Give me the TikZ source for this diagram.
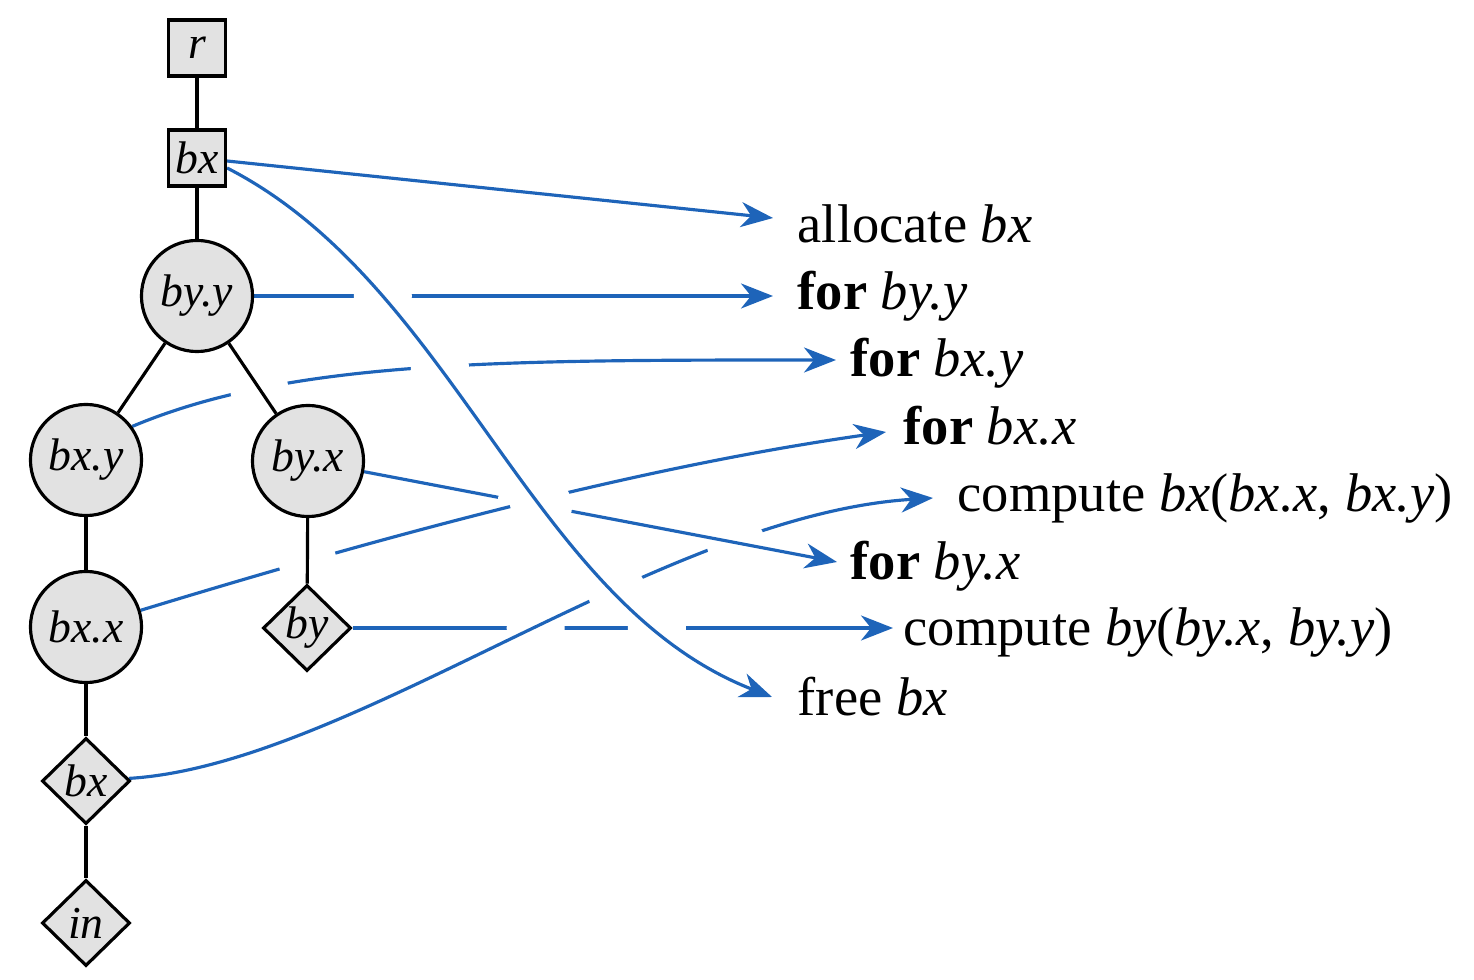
\documentclass[tikz,border=0pt]{standalone}
\usepackage{fontspec}
\setmainfont{Liberation Serif}
\usetikzlibrary{shapes.geometric,arrows.meta,intersections}
\definecolor{arrowblue}{RGB}{30,100,185}
\definecolor{nodegray}{RGB}{226,226,226}
\pgfdeclarelayer{fg}
\pgfsetlayers{main,fg}
\newcommand\gapat[2]{\fill[white,name intersections={of=#1 and #2,name=ix}] (ix-1) circle[radius=0.29cm];}
\begin{document}
\begin{tikzpicture}[x=0.01cm,y=-0.01cm,
  treenode/.style={draw=black,line width=0.9pt,fill=nodegray,inner sep=0pt,font=\fontsize{13}{15}\selectfont\itshape},
  sqbox/.style={treenode,rectangle,minimum width=0.57cm,minimum height=0.56cm},
  circ/.style={treenode,circle,minimum size=1.11cm},
  diam/.style={treenode,diamond,minimum width=0.88cm,minimum height=0.86cm},
  treeedge/.style={draw=black,line width=0.9pt},
  flowline/.style={draw=arrowblue,line width=0.9pt,-{Stealth[length=0.32cm,width=0.25cm,inset=0.1cm]}},
  steptext/.style={anchor=base west,inner sep=0pt,font=\fontsize{15.5}{18}\selectfont}
]
\useasboundingbox (0,0) rectangle (1474,980);
\begin{pgfonlayer}{fg}
\node[sqbox] (r) at (197,48) {r};
\node[sqbox] (bxtop) at (197,158) {bx};
\node[circ] (byy) at (197,296) {by.y};
\node[circ] (bxy) at (86,460) {bx.y};
\node[circ] (byx) at (308,461) {by.x};
\node[circ] (bxx) at (86,627) {bx.x};
\node[diam] (byd) at (307,628) {by};
\node[diam] (bxd) at (86,781) {bx};
\node[diam] (ind) at (86,923) {in};
\node[steptext] (l1) at (797,243) {allocate \textit{bx}};
\node[steptext] (l2) at (797,310) {\textbf{for} \textit{by.y}};
\node[steptext] (l3) at (850,377) {\textbf{for} \textit{bx.y}};
\node[steptext] (l4) at (903,445) {\textbf{for} \textit{bx.x}};
\node[steptext] (l5) at (957,512) {compute \textit{bx}(\textit{bx.x}, \textit{bx.y})};
\node[steptext] (l6) at (850,580) {\textbf{for} \textit{by.x}};
\node[steptext] (l7) at (903,645) {compute \textit{by}(\textit{by.x}, \textit{by.y})};
\node[steptext] (l8) at (797,715) {free \textit{bx}};
\end{pgfonlayer}
\coordinate (talloc) at (773,218);
\coordinate (tbyy) at (773,296);
\coordinate (tbxy) at (836,360);
\coordinate (tbxx) at (886,432);
\coordinate (tcbx) at (933,498);
\coordinate (tbyx) at (837,562);
\coordinate (tcby) at (893,628);
\coordinate (tfree) at (772,697);
\coordinate (salloc) at ([yshift=-0.03cm]bxtop.east);
\coordinate (sfree) at ([yshift=-0.10cm]bxtop.east);
% compute by
\path[name path=pby] (byd) -- (tcby);
\draw[flowline] (byd) -- (tcby);
% compute bx
\path[name path=pbxd] (bxd) .. controls (350,765) and (660,515) .. (tcbx);
\gapat{pbxd}{pby}
\draw[flowline] (bxd) .. controls (350,765) and (660,515) .. (tcbx);
% for by.x
\path[name path=pbyx] (byx) -- (tbyx);
\gapat{pbyx}{pbxd}
\draw[flowline] (byx) -- (tbyx);
% for bx.x
\path[name path=pbxx] (bxx.17) .. controls (381,537) and (638,467) .. (tbxx);
\gapat{pbxx}{pbyx}
\draw[flowline] (bxx.17) .. controls (381,537) and (638,467) .. (tbxx);
% for bx.y
\path[name path=pbxy] (bxy.36) .. controls (290,360) and (500,360) .. (tbxy);
\draw[flowline] (bxy.36) .. controls (290,360) and (500,360) .. (tbxy);
% for by.y
\path[name path=pbyy] (byy) -- (tbyy);
\draw[flowline] (byy) -- (tbyy);
% free bx
\path[name path=pfree] (sfree) .. controls (456,285) and (530,603) .. (tfree);
\gapat{pfree}{pbyy}
\gapat{pfree}{pbxy}
\gapat{pfree}{pbxx}
\gapat{pfree}{pbyx}
\gapat{pfree}{pbxd}
\gapat{pfree}{pby}
\draw[flowline] (sfree) .. controls (456,285) and (530,603) .. (tfree);
% allocate
\draw[flowline] (salloc) -- (talloc);
% tree edges
\draw[treeedge] (r) -- (bxtop);
\draw[treeedge] (bxtop) -- (byy);
\draw[treeedge] (byy) -- (bxy);
\path[name path=e1] (byy) -- (byx);
\gapat{e1}{pbxy}
\draw[treeedge] (byy) -- (byx);
\draw[treeedge] (bxy) -- (bxx);
\path[name path=e2] (byx) -- (byd);
\gapat{e2}{pbxx}
\draw[treeedge] (byx) -- (byd);
\draw[treeedge] (bxx) -- (bxd);
\draw[treeedge] (bxd) -- (ind);
\end{tikzpicture}
\end{document}
